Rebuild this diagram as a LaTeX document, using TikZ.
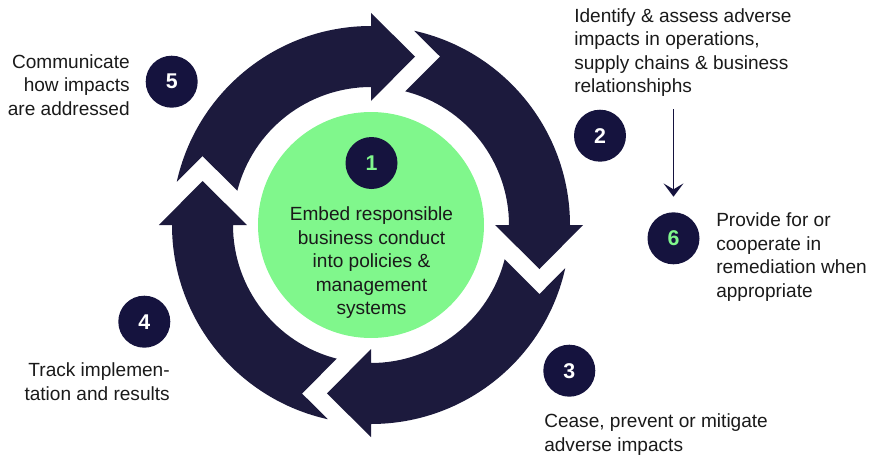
\documentclass[tikz,border=0pt]{standalone}
\usepackage{fontspec}
\setmainfont{Liberation Sans}
\usetikzlibrary{arrows.meta}
\definecolor{ringnavy}{HTML}{1C1A3D}
\definecolor{dotnavy}{HTML}{15133E}
\definecolor{mint}{HTML}{80F78C}
\definecolor{ink}{HTML}{1A1A1A}
\begin{document}
\begin{tikzpicture}[x=0.75pt, y=0.75pt,
  every node/.style={font=\fontsize{14.3}{17.6}\selectfont, text=ink, inner sep=0pt},
  num/.style={circle, fill=dotnavy, minimum size=39pt, text=white, font=\fontsize{16}{19}\selectfont\bfseries},
  ring/.style={fill=ringnavy}]
\useasboundingbox (-371,-232) rectangle (499,225);

% the four arrows of the cycle
\foreach \r in {0,-90,-180,-270}
  \fill[ring, rotate=\r] (167.45:199) arc[start angle=167.45, end angle=90, radius=199]
    -- (90:212) -- (44,168.5) -- (90:124) -- (90:138)
    arc[start angle=90, end angle=165.65, radius=138] -- (-168.5,69) -- cycle;

\node [circle, fill=mint, minimum size=169.5pt] (core) at (0,0) {};
\node [num, text=mint] (n1) at (0.5,62) {1};
\node [align=center] (t1) at (0.5,-37.8) {Embed responsible\\business conduct\\into policies \&\\management\\systems};

\node [num] (n2) at (229,89.3) {2};
\node [num] (n3) at (198.3,-145.7) {3};
\node [num] (n4) at (-226.7,-96.7) {4};
\node [num] (n5) at (-199.3,143.3) {5};
\node [num, text=mint] (n6) at (302.5,-13.3) {6};

\node [anchor=west, align=left] (t2) at (203,172.3) {Identify \& assess adverse\\impacts in operations,\\supply chains \& business\\relationshiphs};
\node [anchor=west, align=left] (t3) at (173,-209.7) {Cease, prevent or mitigate\\adverse impacts};
\node [anchor=east, align=right] (t4) at (-201,-156.7) {Track implemen-\\tation and results};
\node [anchor=east, align=right] (t5) at (-241,140) {Communicate\\how impacts\\are addressed};
\node [anchor=west, align=left] (t6) at (345,-32) {Provide for or\\cooperate in\\remediation when\\appropriate};

\coordinate (p2) at (302.5,116);
\draw [-{Stealth[length=10pt, width=15pt, inset=4.5pt]}, line width=0.8pt, draw=dotnavy, shorten >=11.5pt] (p2) -- (n6);
\end{tikzpicture}
\end{document}
